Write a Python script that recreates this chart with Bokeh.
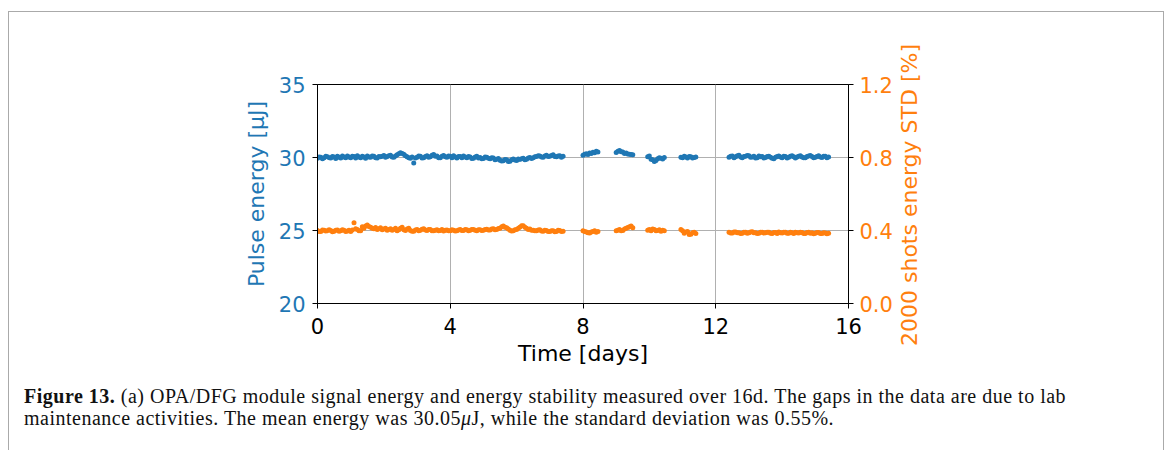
from bokeh.plotting import figure
from bokeh.models import Range1d, LinearAxis, FixedTicker, PrintfTickFormatter, Div
from bokeh.layouts import column, row
from bokeh.embed import file_html
from bokeh.resources import INLINE

# ---- data ----
# measurement segments (gaps = lab maintenance): start day, one sample every 0.05 day
seg_starts = [0.0, 8.0, 9.0, 9.95, 10.95, 12.4]
step_days = 0.05

energy_seg1 = [29.95, 30.04, 30.02, 29.92, 29.98, 30.08, 30.05, 29.99, 29.97, 30.06,
               30.03, 29.94, 30.08, 30.02, 29.96, 30.11, 30.04, 29.98, 30.10, 30.03,
               29.99, 30.09, 30.06, 29.97, 30.12, 30.03, 29.98, 30.08, 30.04, 29.95,
               30.10, 30.04, 30.02, 30.11, 30.08, 29.99, 29.97, 30.06, 30.05, 30.09,
               30.13, 30.01, 30.06, 30.12, 30.15, 30.04, 30.02, 30.10, 30.18, 30.25,
               30.32, 30.28, 30.22, 30.12, 30.05, 29.98, 29.95, 30.04, 29.62, 29.96,
               30.02, 30.10, 30.08, 29.97, 29.98, 30.06, 30.12, 30.02, 30.05, 30.16,
               30.20, 30.08, 30.10, 29.99, 29.98, 30.09, 30.14, 30.05, 30.02, 30.11,
               30.08, 29.99, 30.12, 30.04, 29.96, 30.07, 30.06, 29.98, 30.10, 30.03,
               29.98, 30.06, 30.04, 29.93, 29.95, 30.04, 30.08, 29.97, 30.00, 29.92,
               29.94, 30.03, 30.02, 29.95, 29.92, 29.99, 29.96, 29.85, 29.88, 29.93,
               29.82, 29.76, 29.78, 29.86, 29.85, 29.72, 29.75, 29.84, 29.90, 29.83,
               29.80, 29.89, 29.86, 29.92, 29.95, 29.85, 29.88, 29.97, 30.00, 29.94,
               29.98, 30.05, 30.06, 30.12, 30.10, 30.03, 30.02, 30.10, 30.15, 30.06,
               30.08, 30.14, 30.18, 30.07, 30.05, 30.10, 30.12, 30.02, 30.08]
energy_seg2 = [30.15, 30.22, 30.25, 30.20, 30.30, 30.28, 30.36, 30.33, 30.42, 30.38]
energy_seg3 = [30.35, 30.42, 30.48, 30.40, 30.38, 30.28, 30.30, 30.24, 30.22, 30.20, 30.18]
energy_seg4 = [30.05, 30.10, 29.88, 29.85, 29.72, 29.80, 29.92, 29.98, 29.95, 29.90, 30.00]
energy_seg5 = [30.02, 29.98, 30.08, 30.04, 29.96, 30.06, 30.05, 29.97, 30.00, 30.03]
energy_seg6 = [30.02, 30.08, 30.10, 29.98, 30.05, 30.12, 30.15, 30.04, 29.98, 30.06,
               30.08, 30.14, 30.12, 30.02, 30.04, 30.09, 29.96, 29.99, 30.10, 30.05,
               30.06, 29.97, 30.00, 30.07, 30.08, 30.02, 29.95, 29.92, 30.02, 30.06,
               30.10, 30.04, 29.98, 30.08, 30.06, 29.97, 30.02, 30.09, 30.12, 30.05,
               29.96, 30.03, 30.08, 30.12, 30.04, 29.98, 29.98, 30.06, 30.10, 30.14,
               30.06, 29.99, 30.02, 30.07, 30.12, 30.04, 30.00, 30.09, 30.08, 29.98,
               30.04]

std_seg1 = [0.400, 0.394, 0.395, 0.403, 0.402, 0.397, 0.398, 0.404, 0.400, 0.393,
            0.396, 0.401, 0.403, 0.396, 0.399, 0.404, 0.401, 0.395, 0.397, 0.402,
            0.395, 0.403, 0.442, 0.410, 0.405, 0.398, 0.398, 0.420, 0.412, 0.425,
            0.430, 0.422, 0.418, 0.412, 0.410, 0.416, 0.405, 0.409, 0.415, 0.404,
            0.408, 0.412, 0.402, 0.406, 0.410, 0.401, 0.405, 0.412, 0.398, 0.404,
            0.412, 0.418, 0.404, 0.400, 0.408, 0.413, 0.400, 0.396, 0.396, 0.403,
            0.406, 0.399, 0.402, 0.407, 0.410, 0.403, 0.400, 0.405, 0.406, 0.399,
            0.398, 0.402, 0.404, 0.398, 0.400, 0.405, 0.397, 0.401, 0.403, 0.398,
            0.399, 0.404, 0.402, 0.397, 0.398, 0.403, 0.405, 0.400, 0.400, 0.406,
            0.404, 0.399, 0.401, 0.405, 0.406, 0.402, 0.399, 0.404, 0.404, 0.400,
            0.402, 0.406, 0.407, 0.403, 0.403, 0.408, 0.410, 0.404, 0.405, 0.411,
            0.412, 0.420, 0.425, 0.418, 0.415, 0.408, 0.402, 0.397, 0.398, 0.404,
            0.405, 0.412, 0.418, 0.426, 0.426, 0.418, 0.412, 0.406, 0.408, 0.401,
            0.402, 0.398, 0.398, 0.403, 0.404, 0.397, 0.396, 0.401, 0.400, 0.395,
            0.394, 0.399, 0.398, 0.393, 0.395, 0.401, 0.400, 0.394, 0.396]
std_seg2 = [0.398, 0.394, 0.392, 0.388, 0.386, 0.392, 0.395, 0.398, 0.390, 0.394]
std_seg3 = [0.398, 0.402, 0.405, 0.398, 0.400, 0.408, 0.412, 0.416, 0.420, 0.425, 0.415]
std_seg4 = [0.402, 0.405, 0.398, 0.408, 0.405, 0.399, 0.400, 0.404, 0.396, 0.401, 0.398]
std_seg5 = [0.405, 0.398, 0.385, 0.392, 0.395, 0.378, 0.380, 0.388, 0.390, 0.384]
std_seg6 = [0.390, 0.386, 0.386, 0.392, 0.392, 0.387, 0.388, 0.384, 0.385, 0.391,
            0.390, 0.385, 0.387, 0.392, 0.393, 0.388, 0.388, 0.384, 0.385, 0.390,
            0.391, 0.386, 0.387, 0.391, 0.390, 0.385, 0.384, 0.389, 0.389, 0.383,
            0.392, 0.388, 0.386, 0.391, 0.390, 0.385, 0.385, 0.390, 0.388, 0.383,
            0.391, 0.387, 0.386, 0.390, 0.389, 0.384, 0.384, 0.389, 0.390, 0.385,
            0.387, 0.382, 0.385, 0.389, 0.389, 0.384, 0.383, 0.388, 0.386, 0.382,
            0.385]

x_ticks = [0, 4, 8, 12, 16]
left_ticks = [20, 25, 30, 35]
right_ticks = [0.0, 0.4, 0.8, 1.2]

energy_segs = [energy_seg1, energy_seg2, energy_seg3, energy_seg4, energy_seg5, energy_seg6]
std_segs = [std_seg1, std_seg2, std_seg3, std_seg4, std_seg5, std_seg6]

t_all, e_all, s_all = [], [], []
for st, es, ss in zip(seg_starts, energy_segs, std_segs):
    t_all += [round(st + step_days * i, 4) for i in range(len(es))]
    e_all += es
    s_all += ss

BLUE = "#1f77b4"
ORANGE = "#ff7f0e"
FONT = "DejaVu Sans"

p = figure(width=890, height=366, output_backend="svg", toolbar_location=None,
           x_range=Range1d(0, 16), y_range=Range1d(20, 35),
           min_border_left=308, min_border_right=51, min_border_top=72,
           min_border_bottom=75)
p.extra_y_ranges = {"std": Range1d(0, 1.2)}

p.outline_line_color = "black"
p.outline_line_width = 1
p.outline_line_alpha = 1

p.xgrid.ticker = FixedTicker(ticks=x_ticks)
p.ygrid.ticker = FixedTicker(ticks=left_ticks)
for g in (p.xgrid, p.ygrid):
    g.grid_line_color = "#b0b0b0"
    g.grid_line_width = 1

xa = p.xaxis[0]
xa.ticker = FixedTicker(ticks=x_ticks)
xa.axis_label = "Time [days]"
ya = p.yaxis[0]
ya.ticker = FixedTicker(ticks=left_ticks)
ya.axis_label = "Pulse energy [µJ]"

ra = LinearAxis(y_range_name="std", ticker=FixedTicker(ticks=right_ticks),
                formatter=PrintfTickFormatter(format="%.1f"))
p.add_layout(ra, "right")

for ax in (xa, ya, ra):
    ax.axis_line_color = "black"
    ax.major_tick_line_color = "black"
    ax.major_tick_out = 5
    ax.major_tick_in = 0
    ax.minor_tick_line_color = None
    ax.major_label_text_font = FONT
    ax.major_label_text_font_size = "21px"
    ax.axis_label_text_font = FONT
    ax.axis_label_text_font_size = "22px"
    ax.axis_label_text_font_style = "normal"

xa.major_label_standoff = 9
xa.axis_label_standoff = 4
ya.major_label_standoff = 7
ya.axis_label_standoff = 7
ra.major_label_standoff = 6

xa.major_label_text_color = "black"
xa.axis_label_text_color = "black"
ya.major_label_text_color = BLUE
ya.axis_label_text_color = BLUE
ra.major_label_text_color = ORANGE

p.scatter(t_all, e_all, size=5, marker="circle", fill_color=BLUE, line_color=None)
p.scatter(t_all, s_all, size=5, marker="circle", fill_color=ORANGE, line_color=None,
          y_range_name="std")

# right-axis title, reading bottom-to-top like the left one
right_title = Div(
    text="2000 shots energy STD [%]", width=22, height=366, margin=(0, 0, 0, 0),
    styles={"writing-mode": "vertical-rl", "transform": "rotate(180deg)",
            "text-align": "center", "font-family": FONT, "font-size": "22px",
            "line-height": "22px", "white-space": "nowrap", "color": ORANGE})

caption = Div(
    text=('<b>Figure 13.</b> (a) OPA/DFG module signal energy and energy stability measured '
          'over 16d. The gaps in the data are due to lab<br>maintenance activities. The mean '
          'energy was 30.05<i>μ</i>J, while the standard deviation was 0.55%.'),
    width=1144, height=62,
    styles={"font-family": "Liberation Serif", "font-size": "20px", "line-height": "22px",
            "letter-spacing": "0.5px", "color": "#111111", "padding-left": "10px",
            "padding-top": "2px"})

layout = column(row(p, right_title), caption, margin=(11, 0, 0, 8),
                styles={"border-left": "1px solid #aaaaaa", "border-top": "1px solid #aaaaaa",
                        "border-right": "1px solid #aaaaaa"})

open("out.html", "w").write(file_html(layout, INLINE))
